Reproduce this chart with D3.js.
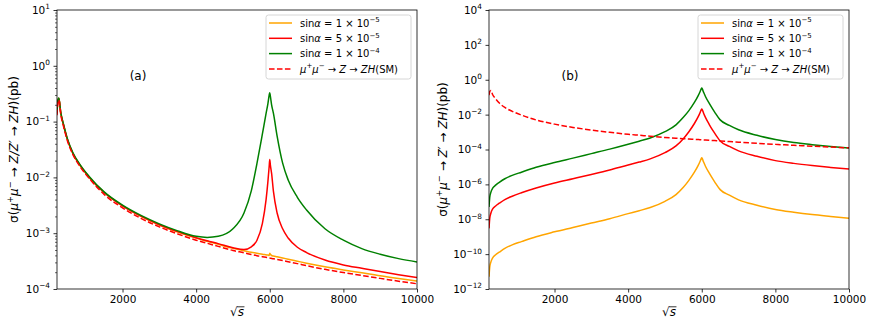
<!DOCTYPE html>
<html>
<head>
<meta charset="utf-8">
<script src="https://cdn.jsdelivr.net/npm/d3@7"></script>
<style>
  body { margin: 0; background: #fff; }
  svg { display: block; font-family: "DejaVu Sans", sans-serif; }
</style>
</head>
<body>
<svg id="chart" width="872" height="327"></svg>
<script>
// sqrt(s) sample points (GeV), shared by every curve
const sqrtS = [220, 240, 270, 320, 400, 500, 650, 850, 1100, 1500, 2000, 2500, 3000, 3500, 4000, 4300, 4600, 5000, 5300, 5500,
  5650, 5800, 5900, 5950, 5985, 6000, 6015, 6050, 6100, 6200, 6350, 6500, 6750, 7000, 7500, 8000, 8500, 9000, 9500, 10000];

// SM mu+ mu- -> Z -> ZH (pb), same in both panels
const smXsec = [0.13, 0.21, 0.245, 0.138, 0.081, 0.046, 0.0258, 0.0155, 9.5e-3, 4.95e-3, 2.85e-3, 1.85e-3, 1.3e-3, 9.7e-4, 7.5e-4, 6.6e-4, 5.8e-4, 4.9e-4, 4.45e-4, 4.15e-4,
  3.95e-4, 3.8e-4, 3.7e-4, 3.65e-4, 3.6e-4, 3.58e-4, 3.56e-4, 3.53e-4, 3.48e-4, 3.38e-4, 3.23e-4, 3.08e-4, 2.85e-4, 2.62e-4, 2.25e-4, 1.97e-4, 1.75e-4, 1.55e-4, 1.38e-4, 1.24e-4];

// panel (a): Z/Z' -> ZH
const aSin1e5 = [0.14, 0.225, 0.26, 0.146, 0.085, 0.048, 0.0268, 0.0162, 9.9e-3, 5.35e-3, 3.08e-3, 2.0e-3, 1.4e-3, 1.05e-3, 8.15e-4, 7.15e-4, 6.3e-4, 5.35e-4, 4.85e-4, 4.55e-4,
  4.38e-4, 4.2e-4, 4.1e-4, 4.05e-4, 4.0e-4, 4.35e-4, 4.22e-4, 3.98e-4, 3.9e-4, 3.78e-4, 3.6e-4, 3.42e-4, 3.15e-4, 2.9e-4, 2.5e-4, 2.2e-4, 1.95e-4, 1.72e-4, 1.54e-4, 1.39e-4];
const aSin5e5 = [0.14, 0.226, 0.262, 0.147, 0.086, 0.0485, 0.027, 0.0164, 0.01, 5.4e-3, 3.1e-3, 2.02e-3, 1.42e-3, 1.07e-3, 8.3e-4, 7.3e-4, 6.5e-4, 5.5e-4, 5.1e-4, 5.7e-4,
  7.4e-4, 1.5e-3, 4.0e-3, 8.5e-3, 0.016, 0.021, 0.017, 0.0118, 5.6e-3, 2.3e-3, 1.2e-3, 8.2e-4, 5.6e-4, 4.5e-4, 3.3e-4, 2.7e-4, 2.35e-4, 2.05e-4, 1.8e-4, 1.6e-4];
const aSin1e4 = [0.145, 0.23, 0.265, 0.15, 0.088, 0.05, 0.028, 0.0168, 0.0103, 5.5e-3, 3.18e-3, 2.08e-3, 1.47e-3, 1.1e-3, 8.8e-4, 8.4e-4, 8.8e-4, 1.2e-3, 2.3e-3, 5.8e-3,
  0.0175, 0.06, 0.14, 0.21, 0.3, 0.33, 0.29, 0.2, 0.14, 0.055, 0.018, 9e-3, 4.4e-3, 2.6e-3, 1.2e-3, 7.5e-4, 5.3e-4, 4.2e-4, 3.5e-4, 3.05e-4];

// panel (b): Z' -> ZH only
const bSin1e5 = [5e-12, 1.8e-11, 3.5e-11, 6.1e-11, 9.2e-11, 1.3e-10, 2.15e-10, 3.4e-10, 5.2e-10, 1.0e-9, 1.9e-9, 3.4e-9, 6.1e-9, 1.08e-8, 2.1e-8, 3.1e-8, 4.7e-8, 1.07e-7, 2.6e-7, 6.8e-7,
  1.7e-6, 5e-6, 1.2e-5, 2.0e-5, 3.0e-5, 3.4e-5, 3.0e-5, 1.9e-5, 1.1e-5, 4.5e-6, 1.4e-6, 5e-7, 2.4e-7, 1.3e-7, 6.4e-8, 3.6e-8, 2.5e-8, 1.85e-8, 1.45e-8, 1.15e-8];
const bSin5e5 = [3e-9, 1.1e-8, 2.2e-8, 3.9e-8, 5.8e-8, 8.3e-8, 1.35e-7, 2.1e-7, 3.3e-7, 6.2e-7, 1.2e-6, 2.1e-6, 3.7e-6, 6.7e-6, 1.3e-5, 1.9e-5, 2.9e-5, 6.6e-5, 1.6e-4, 4.2e-4,
  1.05e-3, 3.1e-3, 7.4e-3, 0.0125, 0.019, 0.021, 0.019, 0.012, 6.9e-3, 2.8e-3, 8.6e-4, 3.1e-4, 1.5e-4, 8.4e-5, 4.1e-5, 2.3e-5, 1.6e-5, 1.2e-5, 9.4e-6, 7.5e-6];
const bSin1e4 = [5e-8, 1.8e-7, 3.5e-7, 6e-7, 9e-7, 1.3e-6, 2.1e-6, 3.3e-6, 5e-6, 9.5e-6, 1.8e-5, 3.2e-5, 5.8e-5, 1.05e-4, 2.0e-4, 3.0e-4, 4.6e-4, 1.05e-3, 2.6e-3, 7e-3,
  0.017, 0.05, 0.12, 0.2, 0.3, 0.34, 0.3, 0.19, 0.11, 0.045, 0.014, 5e-3, 2.4e-3, 1.35e-3, 6.5e-4, 3.7e-4, 2.5e-4, 1.9e-4, 1.5e-4, 1.22e-4];

const xDomain = [220, 10000];
const xTickValues = [2000, 4000, 6000, 8000, 10000];
const yExponentsA = [-4, -3, -2, -1, 0, 1];
const yExponentsB = [-12, -10, -8, -6, -4, -2, 0, 2, 4];

// mathtext-ish label pieces: t = text, i = italic, sup = superscript
const legendLabels = [
  [{ t: "sin" }, { t: "α", i: true }, { t: " = 1 × 10" }, { t: "−5", sup: true }],
  [{ t: "sin" }, { t: "α", i: true }, { t: " = 5 × 10" }, { t: "−5", sup: true }],
  [{ t: "sin" }, { t: "α", i: true }, { t: " = 1 × 10" }, { t: "−4", sup: true }],
  [{ t: "μ", i: true }, { t: "+", sup: true }, { t: "μ", i: true }, { t: "−", sup: true }, { t: " → " },
    { t: "Z", i: true }, { t: " → " }, { t: "ZH", i: true }, { t: "(SM)" }],
];
const yLabelA = [{ t: "σ(" }, { t: "μ", i: true }, { t: "+", sup: true }, { t: "μ", i: true }, { t: "−", sup: true },
  { t: " → " }, { t: "Z/Z′", i: true }, { t: " → " }, { t: "ZH", i: true }, { t: ")(pb)" }];
const yLabelB = [{ t: "σ(" }, { t: "μ", i: true }, { t: "+", sup: true }, { t: "μ", i: true }, { t: "−", sup: true },
  { t: " → " }, { t: "Z′", i: true }, { t: " → " }, { t: "ZH", i: true }, { t: ")(pb)" }];

const lineColors = ["orange", "red", "green"];
const PLOT_TOP = 10;
const PLOT_BOTTOM = 289;
const PLOT_W = 360;

const svg = d3.select("#chart");

const panels = [
  { left: 57, tag: "(a)", yDomain: [1e-4, 10], exps: yExponentsA, minor: true,
    series: [aSin1e5, aSin5e5, aSin1e4], yLabel: yLabelA, yLabelX: 18 },
  { left: 489, tag: "(b)", yDomain: [1e-12, 1e4], exps: yExponentsB, minor: false,
    series: [bSin1e5, bSin5e5, bSin1e4], yLabel: yLabelB, yLabelX: 447 },
];

function appendMath(text, parts, size) {
  let shift = 0;
  parts.forEach((p) => {
    const target = p.sup ? -size * 0.42 : 0;
    const ts = text.append("tspan").text(p.t);
    if (target !== shift) ts.attr("dy", target - shift);
    shift = target;
    if (p.i) ts.attr("font-style", "italic");
    if (p.sup) ts.attr("font-size", size * 0.7);
  });
}

function drawPanel(p, idx) {
  const x = d3.scaleLinear().domain(xDomain).range([p.left, p.left + PLOT_W]);
  const y = d3.scaleLog().domain(p.yDomain).range([PLOT_BOTTOM, PLOT_TOP]);

  const clipId = `clip-${idx}`;
  svg.append("clipPath").attr("id", clipId)
    .append("rect")
    .attr("x", p.left).attr("y", PLOT_TOP)
    .attr("width", PLOT_W).attr("height", PLOT_BOTTOM - PLOT_TOP);

  const line = d3.line()
    .x((d, i) => x(sqrtS[i]))
    .y((d) => y(d))
    .curve(d3.curveMonotoneX);

  const plot = svg.append("g").attr("clip-path", `url(#${clipId})`);

  p.series.forEach((vals, k) => {
    plot.append("path")
      .datum(vals)
      .attr("fill", "none")
      .attr("stroke", lineColors[k])
      .attr("stroke-width", 1.5)
      .attr("stroke-linejoin", "round")
      .attr("d", line);
  });

  plot.append("path")
    .datum(smXsec)
    .attr("fill", "none")
    .attr("stroke", "red")
    .attr("stroke-width", 1.5)
    .attr("stroke-dasharray", "5.55,2.4")
    .attr("d", line);

  // x axis
  const xAxis = svg.append("g")
    .attr("transform", `translate(0,${PLOT_BOTTOM})`)
    .call(d3.axisBottom(x).tickValues(xTickValues).tickSize(3.5).tickPadding(3.5).tickFormat(d3.format("d")));
  xAxis.select(".domain").remove();
  xAxis.selectAll(".tick line").attr("stroke", "#000").attr("stroke-width", 0.8);
  xAxis.selectAll(".tick text")
    .attr("fill", "#000")
    .attr("font-size", 10.5)
    .attr("font-family", "DejaVu Sans");

  // y axis, minor ticks first
  if (p.minor) {
    const minorVals = [];
    d3.range(p.exps[0], p.exps[p.exps.length - 1]).forEach((e) => {
      d3.range(2, 10).forEach((k) => minorVals.push(k * Math.pow(10, e)));
    });
    const minorAxis = svg.append("g")
      .attr("transform", `translate(${p.left},0)`)
      .call(d3.axisLeft(y).tickValues(minorVals).tickSize(2).tickFormat(""));
    minorAxis.select(".domain").remove();
    minorAxis.selectAll(".tick line").attr("stroke", "#000").attr("stroke-width", 0.6);
  }

  const yAxis = svg.append("g")
    .attr("transform", `translate(${p.left},0)`)
    .call(d3.axisLeft(y).tickValues(p.exps.map((e) => Math.pow(10, e))).tickSize(3.5).tickPadding(3.5).tickFormat(""));
  yAxis.select(".domain").remove();
  yAxis.selectAll(".tick line").attr("stroke", "#000").attr("stroke-width", 0.8);
  yAxis.selectAll(".tick text")
    .attr("fill", "#000")
    .attr("font-size", 10.5)
    .attr("font-family", "DejaVu Sans")
    .each(function (d) {
      const e = Math.round(Math.log10(d));
      const label = e < 0 ? `−${-e}` : `${e}`;
      appendMath(d3.select(this), [{ t: "10" }, { t: label, sup: true }], 10.5);
    });

  // frame
  svg.append("rect")
    .attr("x", p.left).attr("y", PLOT_TOP)
    .attr("width", PLOT_W).attr("height", PLOT_BOTTOM - PLOT_TOP)
    .attr("fill", "none")
    .attr("stroke", "#000")
    .attr("stroke-width", 0.8);

  // axis titles
  const cx = p.left + PLOT_W / 2;
  const xl = svg.append("text")
    .attr("x", cx).attr("y", 316)
    .attr("text-anchor", "middle")
    .attr("font-size", 12);
  xl.append("tspan").text("√");
  xl.append("tspan").attr("font-style", "italic").text("s");
  const xb = xl.node().getBBox();
  const rootW = xl.node().getSubStringLength(0, 1);
  svg.append("line")
    .attr("x1", xb.x + rootW - 0.6).attr("x2", xb.x + xb.width + 0.5)
    .attr("y1", 306.8).attr("y2", 306.8)
    .attr("stroke", "#000").attr("stroke-width", 0.8);

  const yl = svg.append("text")
    .attr("transform", `translate(${p.yLabelX},${(PLOT_TOP + PLOT_BOTTOM) / 2}) rotate(-90)`)
    .attr("text-anchor", "middle")
    .attr("font-size", 12);
  appendMath(yl, p.yLabel, 12);

  svg.append("text")
    .attr("x", p.left + 81).attr("y", 80)
    .attr("text-anchor", "middle")
    .attr("font-size", 12)
    .text(p.tag);

  drawLegend(p);
}

function drawLegend(p) {
  const boxW = 145;
  const boxH = 64;
  const bx = p.left + PLOT_W - 6 - boxW;
  const by = PLOT_TOP + 5;

  svg.append("rect")
    .attr("x", bx).attr("y", by)
    .attr("width", boxW).attr("height", boxH)
    .attr("rx", 2.5)
    .attr("fill", "#fff").attr("fill-opacity", 0.8)
    .attr("stroke", "#cccccc").attr("stroke-width", 0.8);

  legendLabels.forEach((parts, i) => {
    const ry = by + 8 + i * 15.3;
    svg.append("line")
      .attr("x1", bx + 3).attr("x2", bx + 26)
      .attr("y1", ry).attr("y2", ry)
      .attr("stroke", i < 3 ? lineColors[i] : "red")
      .attr("stroke-width", 1.5)
      .attr("stroke-dasharray", i < 3 ? null : "5.55,2.4");
    const t = svg.append("text")
      .attr("x", bx + 34).attr("y", ry + 3.6)
      .attr("font-size", 10);
    appendMath(t, parts, 10);
  });
}

panels.forEach(drawPanel);
</script>
</body>
</html>
